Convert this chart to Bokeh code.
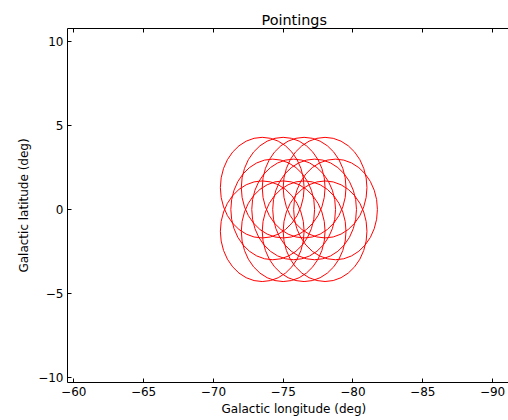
from bokeh.plotting import figure
from bokeh.models import Range1d, FixedTicker, LinearAxis, ColumnDataSource, Title
from bokeh.embed import file_html
from bokeh.resources import INLINE

# Pointing centres (galactic coordinates, deg)
lon = [-73.5, -75.0, -76.5, -78.0,
       -74.25, -75.75, -77.25, -78.75,
       -73.5, -75.0, -76.5, -78.0]
lat = [1.3, 1.3, 1.3, 1.3,
       0.0, 0.0, 0.0, 0.0,
       -1.3, -1.3, -1.3, -1.3]
fov_diameter = [6.0] * len(lon)

x_ticks = [-60, -65, -70, -75, -80, -85, -90]
x_labels = ["−60", "−65", "−70", "−75", "−80", "−85", "−90"]
y_ticks = [-10, -5, 0, 5, 10]
y_labels = ["−10", "−5", "0", "5", "10"]

FONT = "DejaVu Sans"

src = ColumnDataSource(dict(x=lon, y=lat, d=fov_diameter))

p = figure(width=508, height=420, output_backend="svg", toolbar_location=None,
           x_range=Range1d(-59.55, -91.14), y_range=Range1d(-10.32, 10.79),
           x_axis_location=None, y_axis_location=None,
           min_border_left=67, min_border_right=0, min_border_top=28,
           min_border_bottom=38)
p.outline_line_color = None
p.grid.visible = False
p.background_fill_color = "white"
p.border_fill_color = "white"

p.ellipse(x="x", y="y", width="d", height="d", source=src,
          fill_color=None, line_color="red", line_width=1)

def style(ax, ticks, labels, show_labels=True):
    ax.ticker = FixedTicker(ticks=ticks)
    ax.major_label_overrides = {t: l for t, l in zip(ticks, labels)}
    ax.major_tick_in = 4
    ax.major_tick_out = 0
    ax.minor_tick_in = 0
    ax.minor_tick_out = 0
    ax.axis_line_color = "black"
    ax.major_tick_line_color = "black"
    ax.major_label_text_font = FONT
    ax.major_label_text_font_size = "12px"
    ax.major_label_text_color = "black"
    ax.axis_label_text_font = FONT
    ax.axis_label_text_font_size = "12px"
    ax.axis_label_text_font_style = "normal"
    ax.axis_label_text_color = "black"
    if not show_labels:
        ax.major_label_text_font_size = "1px"
        ax.major_label_text_color = None
        ax.major_label_standoff = 0

xb = LinearAxis()
style(xb, x_ticks, x_labels)
xb.major_label_standoff = 4
p.add_layout(xb, "below")

xlabel = Title(text="Galactic longitude (deg)", align="left", offset=154,
               text_font=FONT, text_font_size="12px", text_font_style="normal",
               text_color="black", standoff=3)
p.add_layout(xlabel, "below")

yl = LinearAxis(axis_label="Galactic latitude (deg)")
style(yl, y_ticks, y_labels)
yl.major_label_standoff = 4
yl.axis_label_standoff = 4
p.add_layout(yl, "left")

xt = LinearAxis()
style(xt, x_ticks, x_labels, show_labels=False)
p.add_layout(xt, "above")

p.title.text = "Pointings"
p.title.text_font = FONT
p.title.text_font_size = "14.4px"
p.title.text_font_style = "normal"
p.title.text_color = "black"
p.title.align = "left"
p.title.offset = 194
p.title.standoff = 2

open("out.html", "w").write(file_html(p, INLINE))
